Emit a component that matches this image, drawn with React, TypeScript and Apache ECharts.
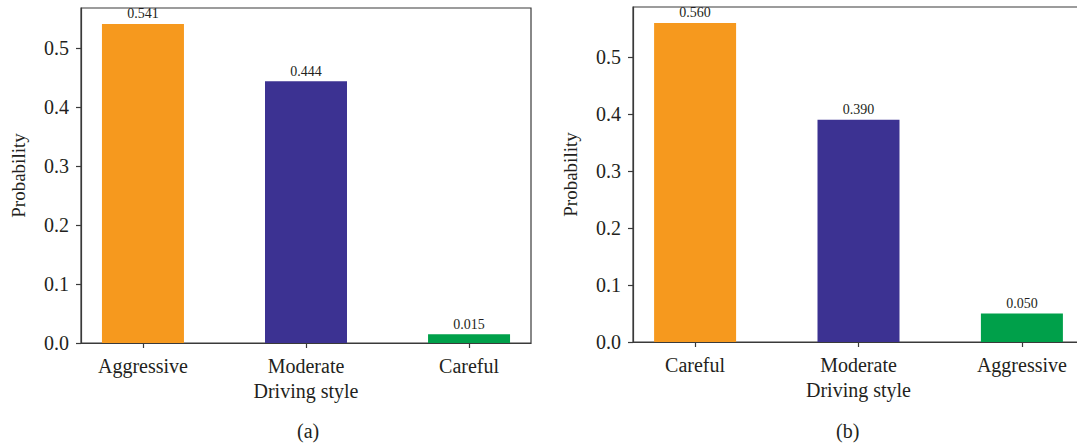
import React, { useEffect, useRef } from "react";
import * as echarts from "echarts";

const panelACategories = ["Aggressive", "Moderate", "Careful"];
const panelAValues = [0.541, 0.444, 0.015];
const panelBCategories = ["Careful", "Moderate", "Aggressive"];
const panelBValues = [0.56, 0.39, 0.05];
const yTickValues = [0, 0.1, 0.2, 0.3, 0.4, 0.5];
const barColors = ["#F6991E", "#3C3292", "#00A04A"];
const xTickValues = [0, 1, 2];
const axisName = "Probability";
const xName = "Driving style";
const panelLabels = ["(a)", "(b)"];

const FONT = "'Liberation Serif', 'Times New Roman', serif";
const INK = "#231F20";
const LINE = "#3a3a3a";

export default function App() {
  const ref = useRef<HTMLDivElement>(null);

  useEffect(() => {
    if (!ref.current) return;
    const chart = echarts.init(ref.current, undefined, { renderer: "svg" });

    const makeX = (gridIndex: number, cats: string[]) => ({
      type: "value",
      gridIndex,
      min: -0.38,
      max: 2.38,
      name: xName,
      nameLocation: "middle",
      nameGap: 38,
      nameTextStyle: { fontFamily: FONT, fontSize: 20, color: INK },
      splitLine: { show: false },
      axisLine: { show: true, onZero: false, lineStyle: { color: LINE, width: 1.2 } },
      axisTick: { show: true, inside: false, length: 5, customValues: xTickValues, lineStyle: { color: LINE, width: 1.2 } },
      axisLabel: {
        customValues: xTickValues,
        margin: 13,
        fontFamily: FONT,
        fontSize: 20,
        color: INK,
        formatter: (v: number) => cats[Math.round(v)] ?? "",
      },
    });

    const makeY = (gridIndex: number, max: number) => ({
      type: "value",
      gridIndex,
      min: 0,
      max,
      name: axisName,
      nameLocation: "middle",
      nameGap: 53,
      nameRotate: 90,
      nameTextStyle: { fontFamily: FONT, fontSize: 19, color: INK },
      splitLine: { show: false },
      axisLine: { show: true, onZero: false, lineStyle: { color: LINE, width: 1.2 } },
      axisTick: { show: true, inside: false, length: 5, customValues: yTickValues, lineStyle: { color: LINE, width: 1.2 } },
      axisLabel: {
        customValues: yTickValues,
        margin: 12,
        fontFamily: FONT,
        fontSize: 20,
        color: INK,
        formatter: (v: number) => v.toFixed(1),
      },
    });

    const makeSeries = (idx: number, values: number[]) => ({
      type: "bar",
      xAxisIndex: idx,
      yAxisIndex: idx,
      barWidth: 82,
      data: values.map((v, i) => ({ value: [xTickValues[i], v], itemStyle: { color: barColors[i] } })),
      label: {
        show: true,
        position: "top",
        distance: 3,
        fontFamily: FONT,
        fontSize: 14,
        color: INK,
        formatter: (p: any) => Number(p.data.value[1]).toFixed(3),
      },
    });

    chart.setOption({
      animation: false,
      backgroundColor: "#ffffff",
      grid: [
        { left: 81, top: 8, width: 450, height: 335, show: true, borderColor: LINE, borderWidth: 1.2, backgroundColor: "transparent", containLabel: false, outerBoundsMode: "none" },
        { left: 633, top: 7, width: 451, height: 335, show: true, borderColor: LINE, borderWidth: 1.2, backgroundColor: "transparent", containLabel: false, outerBoundsMode: "none" },
      ],
      xAxis: [makeX(0, panelACategories), makeX(1, panelBCategories)],
      yAxis: [makeY(0, Math.max(...panelAValues) * 1.05), makeY(1, Math.max(...panelBValues) * 1.05)],
      series: [makeSeries(0, panelAValues), makeSeries(1, panelBValues)],
      graphic: [
        { type: "text", left: 297, top: 421, style: { text: panelLabels[0], fontFamily: FONT, fontSize: 20, fill: INK } },
        { type: "text", left: 836, top: 421, style: { text: panelLabels[1], fontFamily: FONT, fontSize: 20, fill: INK } },
      ],
    });

    return () => chart.dispose();
  }, []);

  return <div ref={ref} style={{ position: "fixed", left: 0, top: 0, width: 1077, height: 446 }} />;
}
